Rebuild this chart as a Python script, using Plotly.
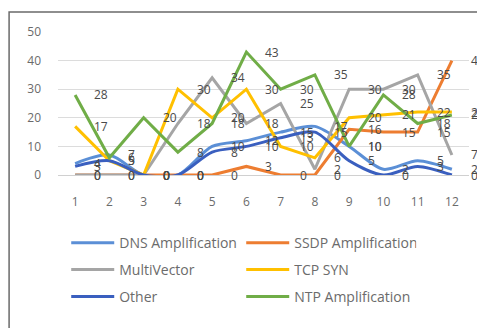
import plotly.graph_objects as go

# Monthly attack counts per vector
months = list(range(1, 13))
month_labels = [str(m) for m in months]

dns_amplification = [4, 7, 0, 0, 10, 12, 15, 17, 10, 2, 5, 2]
ssdp_amplification = [0, 0, 0, 0, 0, 3, 0, 0, 16, 15, 15, 40]
multivector = [0, 0, 0, 18, 34, 18, 25, 2, 30, 30, 35, 7]
tcp_syn = [17, 5, 0, 30, 20, 30, 10, 6, 20, 21, 22, 22]
other = [3, 5, 0, 0, 8, 10, 13, 15, 5, 0, 3, 0]
ntp_amplification = [28, 6, 20, 8, 18, 43, 30, 35, 10, 28, 18, 21]

series = [
    ("DNS Amplification", dns_amplification, "#5b8fd6", "spline", "legend"),
    ("SSDP Amplification", ssdp_amplification, "#ed7d31", "linear", "legend"),
    ("MultiVector", multivector, "#a5a5a5", "linear", "legend2"),
    ("TCP SYN", tcp_syn, "#ffc000", "linear", "legend2"),
    ("Other", other, "#3a5fbf", "spline", "legend3"),
    ("NTP Amplification", ntp_amplification, "#70ad47", "linear", "legend3"),
]

FONT = "Open Sans, Liberation Sans, sans-serif"
TEXT_GREY = "#6b6b6b"

fig = go.Figure()
annotations = []
for name, values, color, shape, legend_id in series:
    fig.add_trace(go.Scatter(
        x=months, y=values, name=name, mode="lines",
        line=dict(color=color, width=3, shape=shape, smoothing=0.8),
        legend=legend_id,
    ))
    # value labels sit to the right of each point
    for m, v in zip(months, values):
        annotations.append(dict(
            x=m, y=v, xref="x", yref="y", text=str(v), showarrow=False,
            xanchor="left", yanchor="middle", xshift=17,
            font=dict(family=FONT, size=12, color="#4a4a4a"),
        ))

legend_common = dict(
    orientation="h", xanchor="left", yanchor="middle",
    entrywidth=117, entrywidthmode="pixels", itemwidth=43,
    font=dict(family=FONT, size=14, color=TEXT_GREY),
    bgcolor="rgba(0,0,0,0)", traceorder="normal",
)

fig.update_layout(
    width=477, height=328,
    margin=dict(l=58, r=8, t=32, b=153, autoexpand=False),
    paper_bgcolor="white", plot_bgcolor="white",
    annotations=annotations,
    legend=dict(x=0.02, y=-0.476, **legend_common),
    legend2=dict(x=0.02, y=-0.664, **legend_common),
    legend3=dict(x=0.02, y=-0.853, **legend_common),
    shapes=[
        # chart frame (left and top edges fall inside the page)
        dict(type="rect", xref="paper", yref="paper",
             x0=-0.119, x1=1.3, y0=-1.5, y1=1.14,
             line=dict(color="#6a6a6a", width=1.5), layer="below"),
    ],
)

fig.update_xaxes(
    range=[0.5, 12.5], tickmode="array", tickvals=months, ticktext=month_labels,
    showgrid=False, zeroline=False, showline=False, ticks="",
    tickfont=dict(family=FONT, size=12, color=TEXT_GREY),
    ticklabelstandoff=18,
)
fig.update_yaxes(
    range=[0, 50], dtick=10, showgrid=True, gridcolor="#dcdcdc", gridwidth=1,
    zeroline=True, zerolinecolor="#d0d0d0", zerolinewidth=1,
    showline=False, ticks="",
    tickfont=dict(family=FONT, size=12, color=TEXT_GREY),
    ticklabelstandoff=16,
)

fig.write_html("out.html")
